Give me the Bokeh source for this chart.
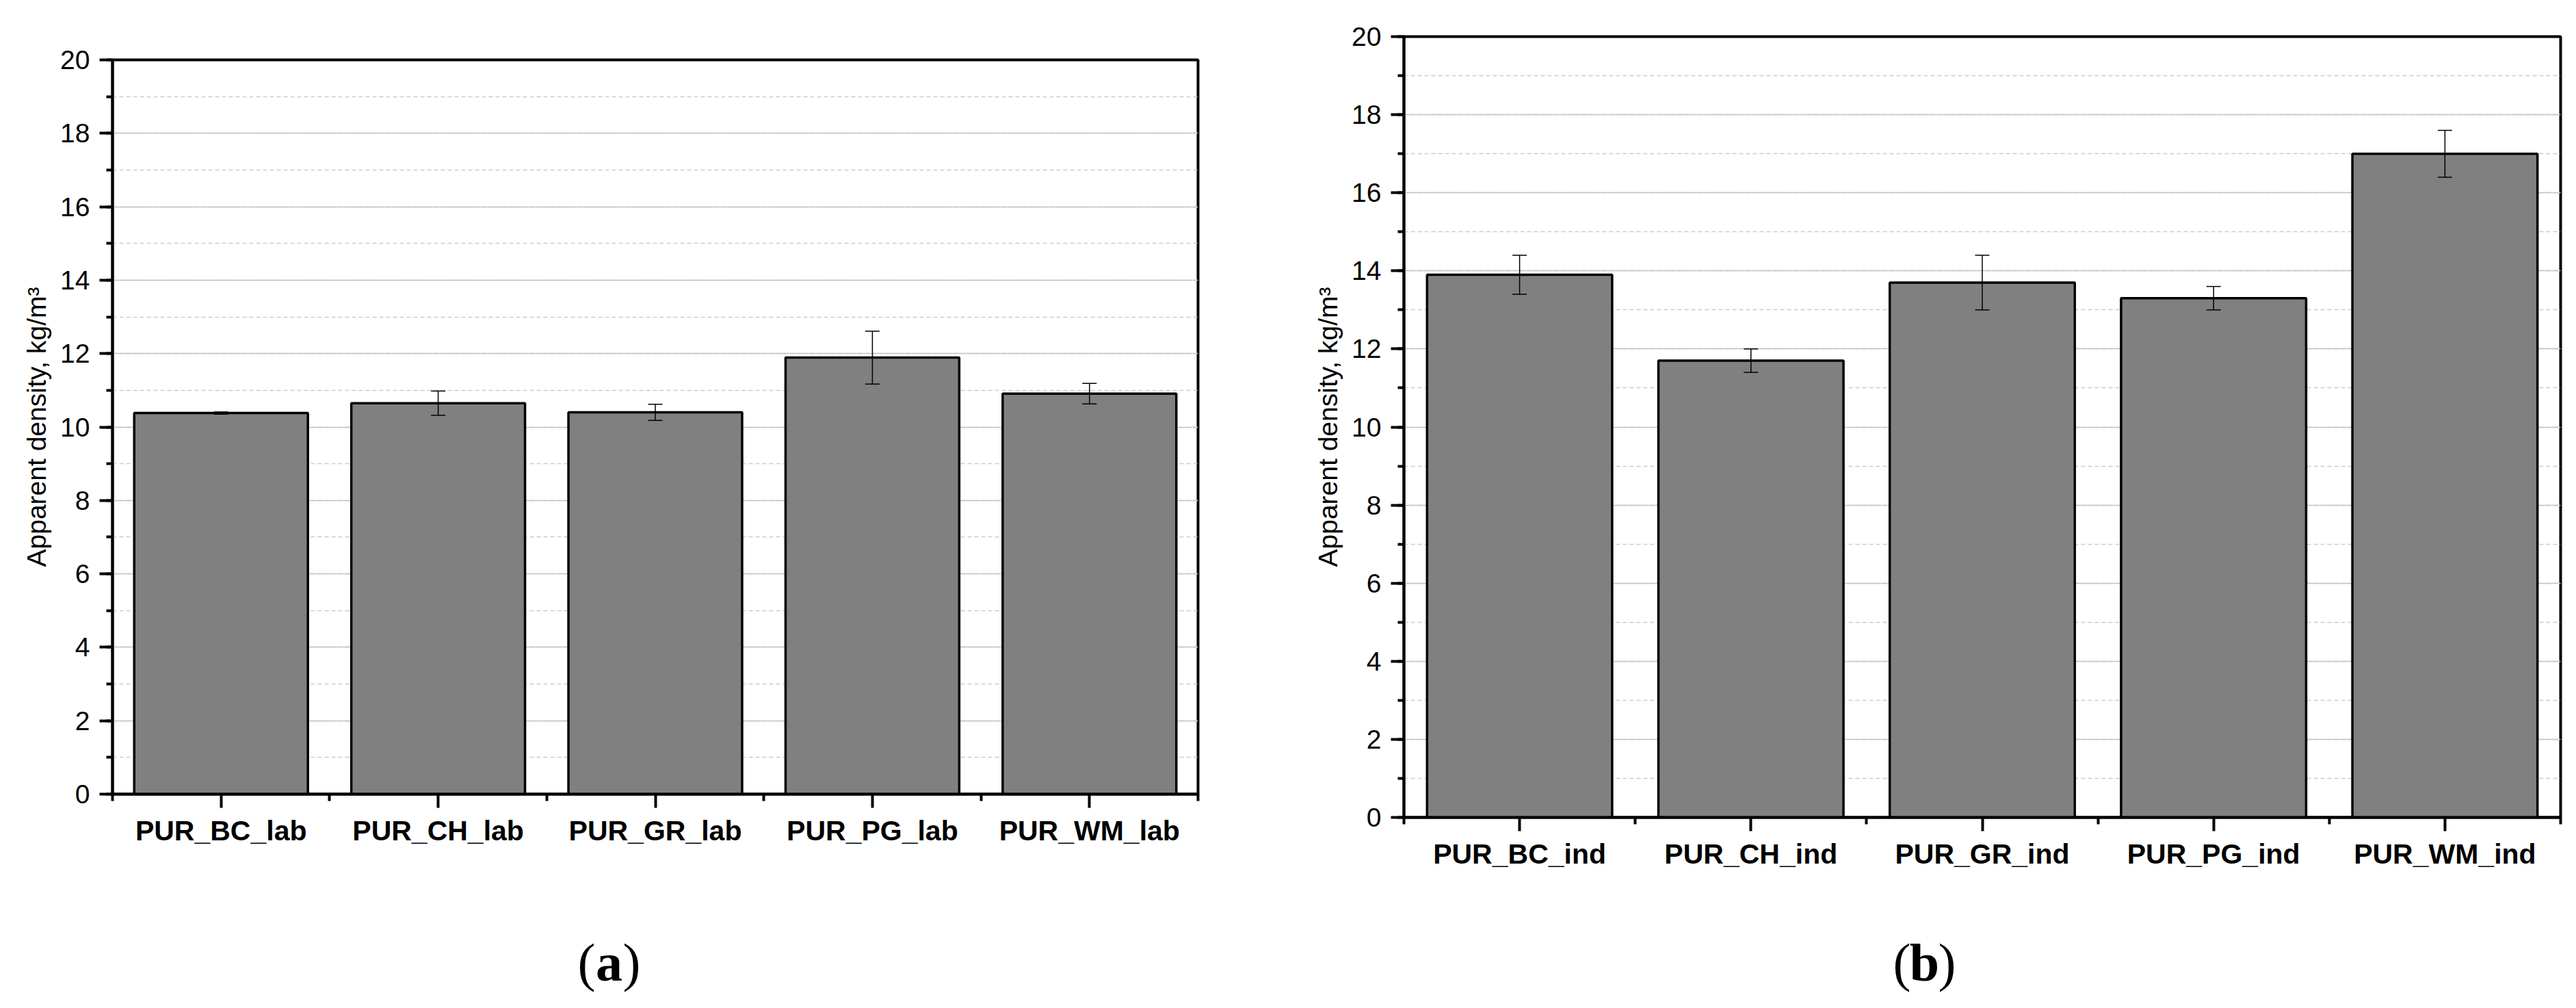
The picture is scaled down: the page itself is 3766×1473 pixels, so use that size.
from bokeh.plotting import figure
from bokeh.models import (Range1d, FixedTicker, SingleIntervalTicker, ColumnDataSource,
                          Whisker, TeeHead)
from bokeh.layouts import row, column
from bokeh.core.properties import value
from bokeh.embed import file_html
from bokeh.resources import INLINE

# ---------------- data ----------------
lab_categories = ["PUR_BC_lab", "PUR_CH_lab", "PUR_GR_lab", "PUR_PG_lab", "PUR_WM_lab"]
lab_density = [10.38, 10.65, 10.40, 11.89, 10.91]
lab_error = [0.03, 0.33, 0.22, 0.72, 0.28]

ind_categories = ["PUR_BC_ind", "PUR_CH_ind", "PUR_GR_ind", "PUR_PG_ind", "PUR_WM_ind"]
ind_density = [13.90, 11.70, 13.70, 13.30, 17.00]
ind_error = [0.50, 0.30, 0.70, 0.30, 0.60]

y_title = "Apparent density, kg/m³"
captions = ["a", "b"]

FONT = "Liberation Sans"


def no_align(p):
    if "frame_align" in type(p).properties():
        p.frame_align = False


def make_panel(categories, values, errors, width, height,
               b_left, b_right, b_top, b_bottom):
    n = len(categories)
    xs = [i + 1 for i in range(n)]
    src = ColumnDataSource(dict(
        x=xs, top=values,
        upper=[v + e for v, e in zip(values, errors)],
        lower=[v - e for v, e in zip(values, errors)],
    ))
    p = figure(width=width, height=height, output_backend="svg", toolbar_location=None,
               x_range=Range1d(0.5, n + 0.5), y_range=Range1d(0, 20),
               min_border_left=b_left, min_border_right=b_right,
               min_border_top=b_top, min_border_bottom=b_bottom)
    no_align(p)
    p.background_fill_color = "white"
    p.border_fill_color = "white"
    p.outline_line_color = "black"
    p.outline_line_width = 4

    p.vbar(x="x", top="top", bottom=0, width=0.8, source=src,
           fill_color="#808080", line_color="black", line_width=3.5)

    w = Whisker(base="x", upper="upper", lower="lower", source=src,
                line_color="black", line_width=1.5, level="overlay",
                upper_head=TeeHead(size=21, line_color="black", line_width=1.5),
                lower_head=TeeHead(size=21, line_color="black", line_width=1.5))
    p.add_layout(w)

    # y axis
    yax = p.yaxis[0]
    yax.ticker = SingleIntervalTicker(interval=2, num_minor_ticks=2)
    yax.axis_line_width = 4
    yax.major_tick_line_width = 4
    yax.minor_tick_line_width = 4
    yax.major_tick_in = 0
    yax.major_tick_out = 19
    yax.minor_tick_in = 0
    yax.minor_tick_out = 9
    yax.major_label_text_font = FONT
    yax.major_label_text_font_size = "39px"
    yax.major_label_text_color = "black"
    yax.major_label_standoff = 14
    yax.axis_label = y_title
    yax.axis_label_text_font = FONT
    yax.axis_label_text_font_size = "39px"
    yax.axis_label_text_font_style = "normal"
    yax.axis_label_text_color = "black"
    yax.axis_label_standoff = 10

    # x axis
    xax = p.xaxis[0]
    xax.ticker = FixedTicker(ticks=xs, minor_ticks=[i + 0.5 for i in range(n + 1)])
    xax.major_label_overrides = {x: c for x, c in zip(xs, categories)}
    xax.axis_line_width = 4
    xax.major_tick_line_width = 4
    xax.minor_tick_line_width = 4
    xax.major_tick_in = 0
    xax.major_tick_out = 20
    xax.minor_tick_in = 0
    xax.minor_tick_out = 10
    xax.major_label_text_font = FONT
    xax.major_label_text_font_size = "41px"
    xax.major_label_text_font_style = "bold"
    xax.major_label_text_color = "black"
    xax.major_label_standoff = 10

    # grid
    p.xgrid.visible = False
    p.ygrid.grid_line_color = "#c4c4c4"
    p.ygrid.grid_line_width = 1.5
    p.ygrid.minor_grid_line_color = "#cccccc"
    p.ygrid.minor_grid_line_width = 1.5
    p.ygrid.minor_grid_line_dash = "6 4"
    return p


def make_caption(letter, width, height, cx, cy):
    c = figure(width=width, height=height, output_backend="svg", toolbar_location=None,
               x_range=Range1d(0, width), y_range=Range1d(0, height),
               min_border=0, x_axis_type=None, y_axis_type=None)
    no_align(c)
    c.outline_line_color = None
    c.grid.visible = False
    common = dict(y=[cy], text_font=value("Liberation Serif"), text_font_size="78px",
                  text_color="black", text_baseline="middle")
    c.text(x=[cx - 20], text=["("], text_align="right", **common)
    c.text(x=[cx], text=[letter], text_align="center", text_font_style="bold", **common)
    c.text(x=[cx + 20], text=[")"], text_align="left", **common)
    return c


W1, W2 = 1910, 1840
H_MAIN, H_CAP = 1290, 170

p1 = make_panel(lab_categories, lab_density, lab_error,
                width=W1, height=H_MAIN, b_left=164, b_right=W1 - 164 - 1587,
                b_top=87, b_bottom=H_MAIN - 87 - 1073)
p2 = make_panel(ind_categories, ind_density, ind_error,
                width=W2, height=H_MAIN, b_left=142, b_right=W2 - 142 - 1691,
                b_top=53, b_bottom=H_MAIN - 53 - 1141)

c1 = make_caption(captions[0], W1, H_CAP, 890, 54)
c2 = make_caption(captions[1], W2, H_CAP, 903, 54)

layout = column(row(p1, p2), row(c1, c2))
open("out.html", "w").write(file_html(layout, INLINE))
